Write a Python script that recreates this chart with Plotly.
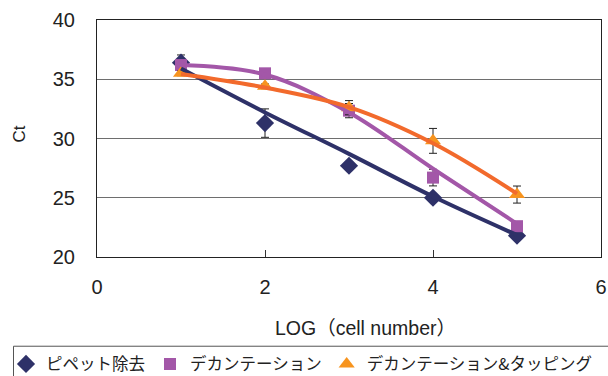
import plotly.graph_objects as go

# ---- data ----
log_cells = [1, 2, 3, 4, 5]

pipette_ct = [36.4, 31.3, 27.7, 25.0, 21.8]
pipette_err = [0.65, 1.2, 0.2, 0.2, 0.2]
pipette_trend = [35.9, 32.2, 28.7, 25.1, 21.85]

decant_ct = [36.2, 35.5, 32.35, 26.7, 22.6]
decant_err = [0.2, 0.2, 0.6, 0.7, 0.3]
decant_trend = [36.2, 35.4, 32.2, 27.45, 22.8]

tap_ct = [35.5, 34.4, 32.6, 29.8, 25.27]
tap_err = [0.2, 0.2, 0.6, 1.05, 0.72]
tap_trend = [35.45, 34.3, 32.65, 29.6, 25.35]

series_names = ["ピペット除去", "デカンテーション", "デカンテーション&タッピング"]
y_ticks = [20, 25, 30, 35, 40]
x_ticks = [0, 2, 4, 6]

FONT = "Liberation Sans, Arial, Noto Sans CJK JP, sans-serif"
JFONT = "Noto Sans CJK JP, Liberation Sans, sans-serif"

NAVY = "#2e3168"
PURPLE = "#a357a8"
ORANGE_LINE = "#f26a2c"
ORANGE_MK = "#f7941e"

fig = go.Figure()

def err(vals):
    return dict(type="data", array=vals, visible=True, color="#222222",
                thickness=1, width=4)

fig.add_trace(go.Scatter(x=log_cells, y=pipette_ct, mode="markers", name=series_names[0],
                         marker=dict(symbol="diamond", size=14, color=NAVY),
                         error_y=err(pipette_err)))
fig.add_trace(go.Scatter(x=log_cells, y=decant_ct, mode="markers", name=series_names[1],
                         marker=dict(symbol="square", size=12, color=PURPLE),
                         error_y=err(decant_err)))
fig.add_trace(go.Scatter(x=log_cells, y=tap_ct, mode="markers", name=series_names[2],
                         marker=dict(symbol="triangle-up", size=14, color=ORANGE_MK),
                         error_y=err(tap_err)))

for trend, col in [(pipette_trend, NAVY), (decant_trend, PURPLE), (tap_trend, ORANGE_LINE)]:
    fig.add_trace(go.Scatter(x=log_cells, y=trend, mode="lines", showlegend=False,
                             hoverinfo="skip",
                             line=dict(color=col, width=4, shape="spline", smoothing=1.0)))

L, R, T, B = 97, 7, 19.5, 119.3
W, H = 608, 376
pw, ph = W - L - R, H - T - B

def px_x(x):
    return (x - L) / pw

def px_y(y):
    return (H - B - y) / ph

fig.update_layout(
    width=W, height=H,
    margin=dict(l=L, r=R, t=T, b=B, pad=0, autoexpand=False),
    paper_bgcolor="white", plot_bgcolor="white",
    font=dict(family=FONT, size=20, color="#222222"),
    showlegend=True,
    legend=dict(orientation="h", x=px_x(6), xanchor="left", y=px_y(364), yanchor="middle",
                font=dict(family=JFONT, size=16.5, color="#222222"),
                bgcolor="rgba(0,0,0,0)", borderwidth=0, itemwidth=30,
                tracegroupgap=0),
    xaxis=dict(range=[0, 6], tickvals=x_ticks, ticks="inside", ticklen=7, tickcolor="#333333",
               showline=True, linecolor="#222222", linewidth=1, mirror=True,
               showgrid=False, zeroline=False, ticklabelstandoff=12,
               tickfont=dict(size=20)),
    yaxis=dict(range=[20, 40], tickvals=y_ticks, ticks="",
               showline=True, linecolor="#222222", linewidth=1, mirror=True,
               showgrid=True, gridcolor="#6e6e6e", gridwidth=1, zeroline=False,
               ticklabelstandoff=17, tickfont=dict(size=20)),
    shapes=[dict(type="rect", xref="paper", yref="paper",
                 x0=px_x(13.5), x1=px_x(640), y0=px_y(346), y1=px_y(400),
                 line=dict(color="#555555", width=1), fillcolor="rgba(0,0,0,0)", layer="below")],
    annotations=[
        dict(text="LOG（cell number）", xref="paper", yref="paper", x=px_x(365), y=px_y(328),
             xanchor="center", yanchor="middle", showarrow=False,
             font=dict(family=FONT, size=19.5, color="#222222")),
        dict(text="Ct", xref="paper", yref="paper", x=px_x(19), y=px_y(134),
             xanchor="center", yanchor="middle", showarrow=False, textangle=-90,
             font=dict(family=FONT, size=17, color="#222222")),
    ],
)

fig.write_html("out.html", config={"displayModeBar": False},
               post_script="document.body.style.margin='0px';document.body.style.overflow='hidden';")
